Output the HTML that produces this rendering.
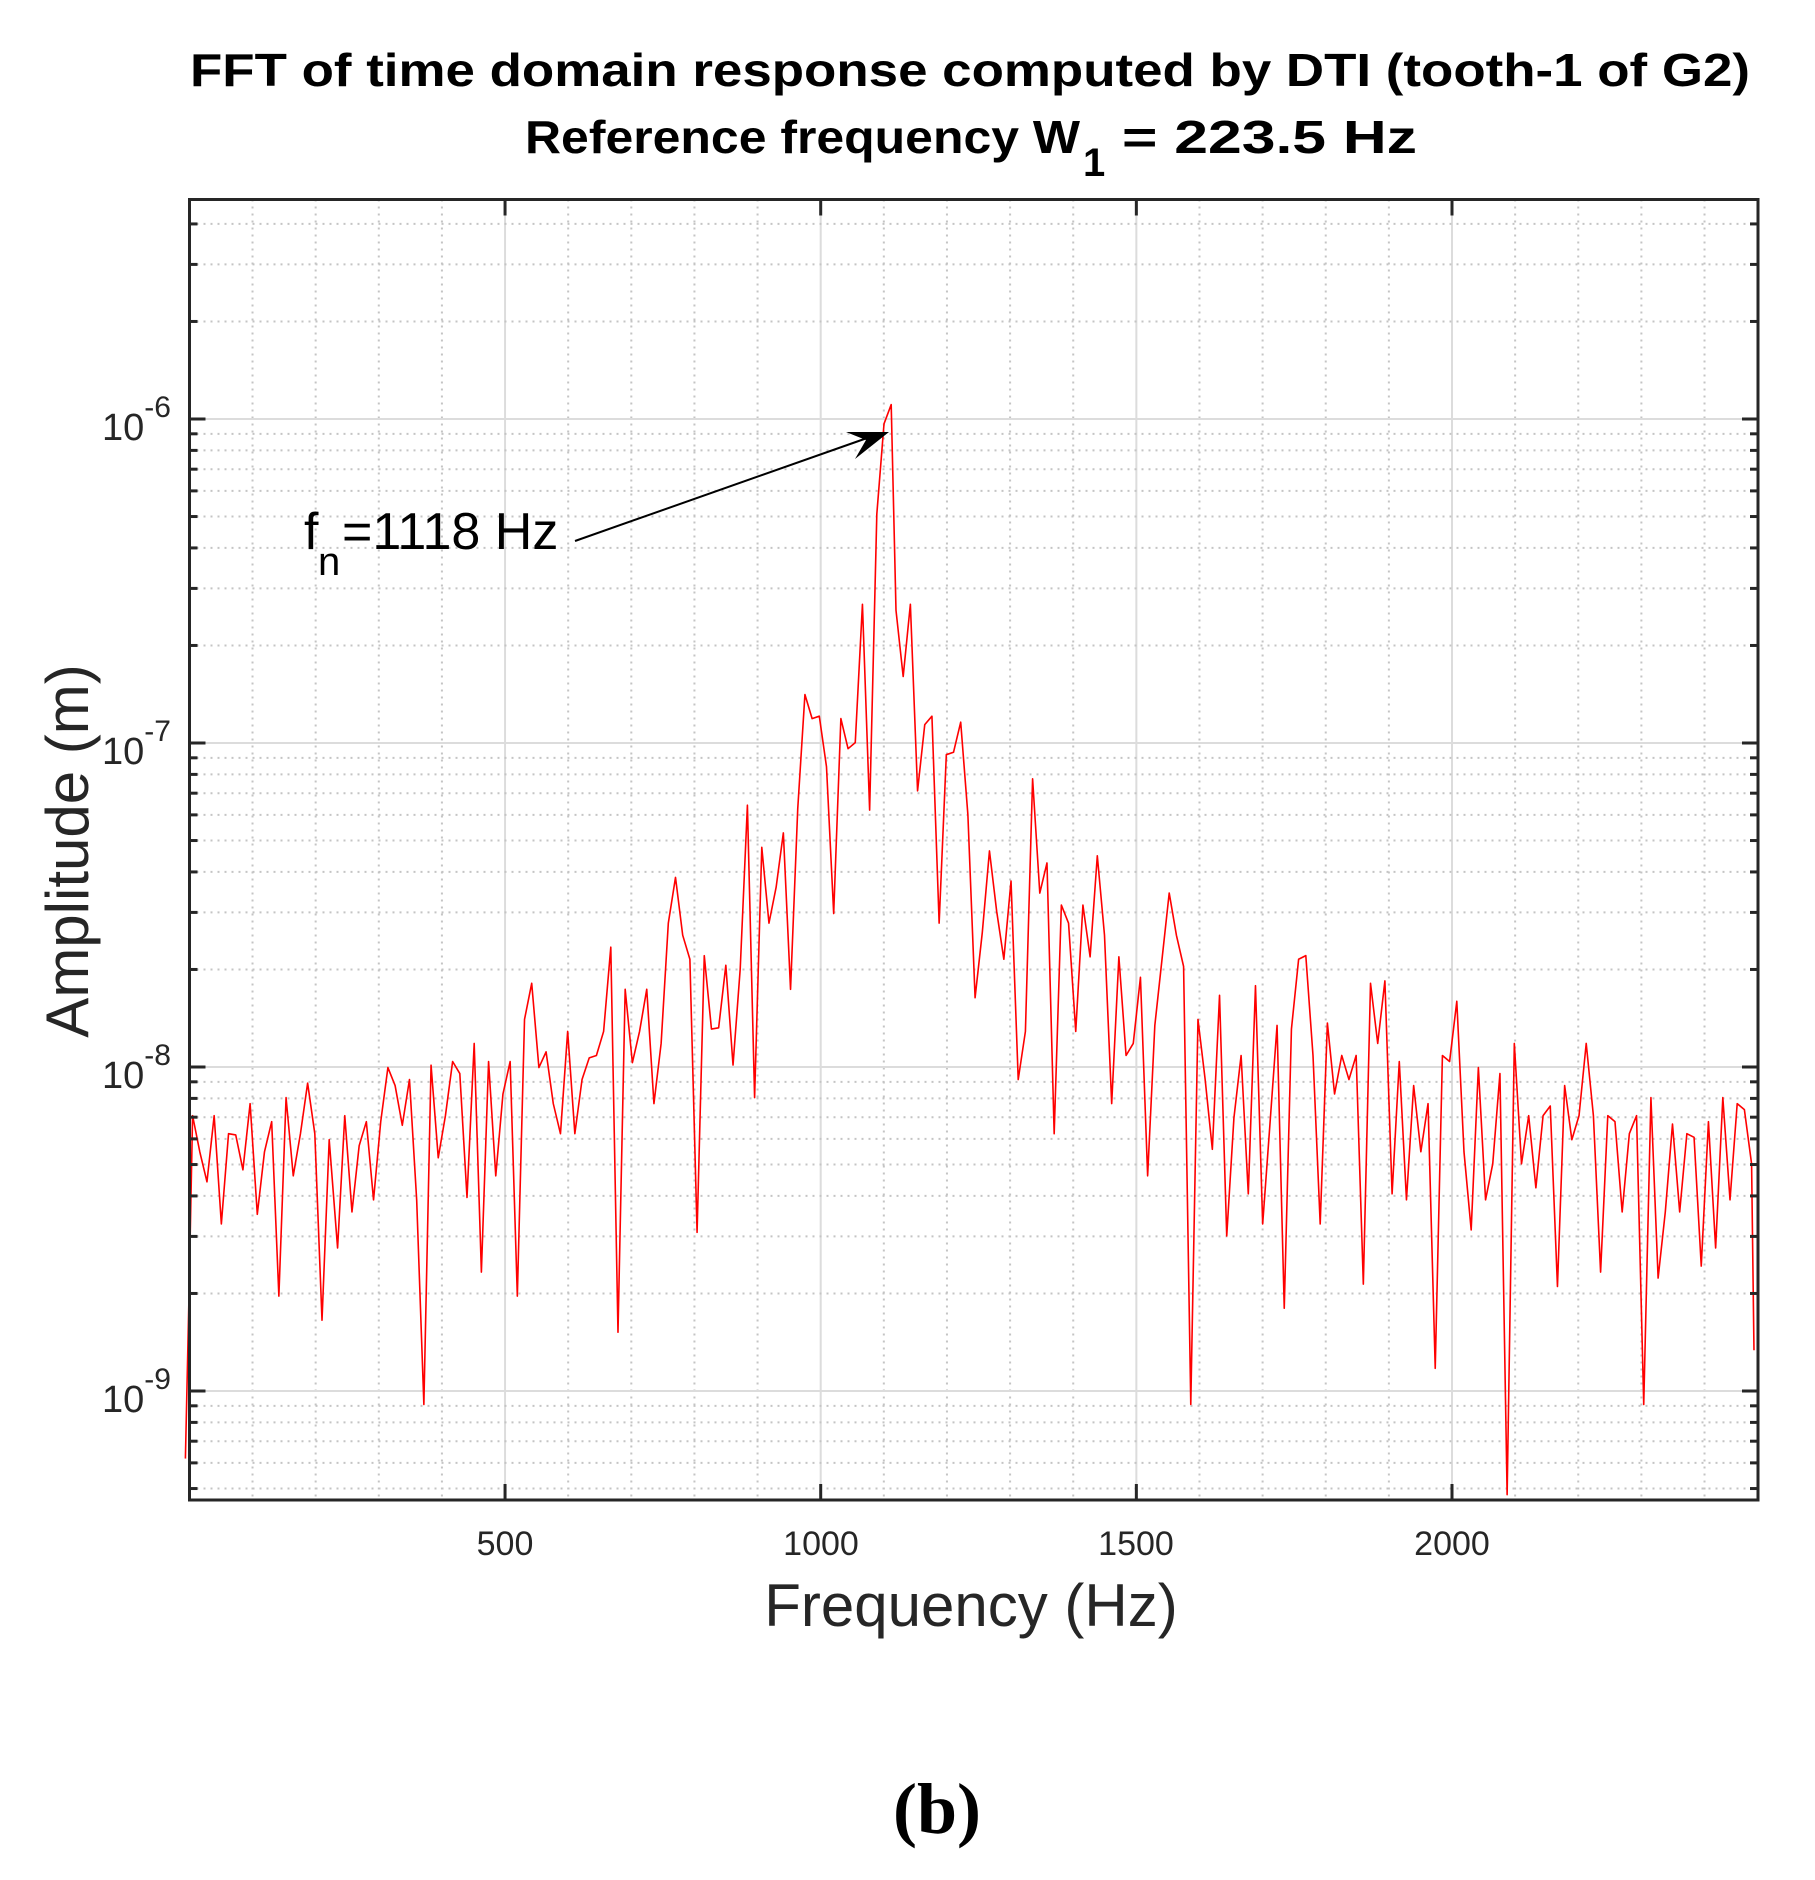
<!DOCTYPE html>
<html><head><meta charset="utf-8"><style>
html,body{margin:0;padding:0;background:#fff;}
svg{display:block;}
</style></head><body>
<svg id="s" width="1815" height="1880" viewBox="0 0 1815 1880" xmlns="http://www.w3.org/2000/svg" font-family="Liberation Sans, Arial, sans-serif">
<rect width="1815" height="1880" fill="#fff"/>
<g id="grid"></g>
<g transform="matrix(1.1983,0,0,1.2032,-3.93,-3.32)">
<polyline fill="none" stroke="#ff0000" stroke-width="1.6" vector-effect="non-scaling-stroke" stroke-linejoin="round" points="158,1215 161,1080 164,930 170,960 176,985 182,930 188,1020 194,945 200,946 206,975 212,920 218,1012 224,960 230,935 236,1080 242,915 248,980 254,945 260,903 266,945 272,1100 278,950 285,1040 291,930 297,1010 303,955 309,935 315,1000 321,935 327,890 333,905 339,938 345,900 351,1000 357,1170 363,888 369,965 375,930 381,885 387,895 393,998 399,870 405,1060 411,885 417,980 423,912 429,885 435,1080 441,850 447,820 453,890 459,877 465,920 471,945 477,860 483,945 489,900 495,882 501,880 507,860 513,790 519,1110 525,825 531,886 537,860 543,825 549,920 555,870 561,770 567,732 573,780 579,800 585,1027 591,797 597,858 603,857 609,805 615,888 621,808 627,672 633,915 639,707 645,770 651,740 657,695 663,825 669,675 675,580 681,600 687,598 693,640 699,762 705,600 711,625 717,620 723,505 729,676 735,430 741,355 747,339 751,510 757,565 763,505 769,660 775,605 781,598 787,770 793,630 799,628 805,603 811,680 817,832 823,778 829,710 835,760 841,800 847,735 853,900 859,860 865,650 871,745 877,720 883,945 889,755 895,770 901,860 907,755 913,798 919,714 925,780 931,920 937,798 943,880 949,870 955,815 961,980 967,855 973,800 979,745 985,780 991,806 997,1170 1003,850 1009,900 1015,958 1021,830 1027,1030 1033,932 1039,880 1045,995 1051,822 1057,1020 1063,938 1069,855 1075,1090 1081,858 1087,800 1093,797 1099,880 1105,1020 1111,853 1117,912 1123,880 1129,900 1135,880 1141,1070 1147,820 1153,870 1159,818 1165,995 1171,885 1177,1000 1183,905 1189,960 1195,920 1201,1140 1207,880 1213,885 1219,835 1225,960 1231,1025 1237,890 1243,1000 1249,970 1255,895 1261,1245 1267,870 1273,970 1279,930 1285,990 1291,930 1297,922 1303,1072 1309,905 1315,950 1321,930 1327,870 1333,930 1339,1060 1345,930 1351,935 1357,1010 1363,945 1369,930 1375,1170 1381,915 1387,1065 1393,1010 1399,937 1405,1010 1411,945 1417,948 1423,1055 1429,935 1435,1040 1441,915 1447,1000 1453,920 1459,925 1465,970 1467,1125"/>
</g>
<g id="ax"></g>
<rect x="189.5" y="199.5" width="1568.5" height="1300.5" fill="none" stroke="#262626" stroke-width="3"/>
<line x1="575" y1="541" x2="870" y2="437" stroke="#000" stroke-width="2"/>
<polygon points="889,432 846,432 866,440 855,459" fill="#000"/>
<text x="304" y="549" font-size="52" fill="#000">f</text>
<text x="318" y="575" font-size="40" fill="#000">n</text>
<text x="342" y="549" font-size="52" fill="#000">=1118 Hz</text>
<text x="970" y="86" font-size="46" font-weight="bold" text-anchor="middle" textLength="1560" lengthAdjust="spacingAndGlyphs">FFT of time domain response computed by DTI (tooth-1 of G2)</text>
<text x="525" y="153" font-size="46" font-weight="bold" textLength="555" lengthAdjust="spacingAndGlyphs">Reference frequency W</text>
<text x="1083" y="176" font-size="40" font-weight="bold">1</text>
<text x="1122" y="153" font-size="46" font-weight="bold" textLength="295" lengthAdjust="spacingAndGlyphs">= 223.5 Hz</text>
<g font-size="34" fill="#262626" text-anchor="middle">
<text x="505" y="1555">500</text><text x="821" y="1555">1000</text><text x="1136" y="1555">1500</text><text x="1452" y="1555">2000</text>
</g>
<text x="971" y="1626" font-size="60" fill="#262626" text-anchor="middle">Frequency (Hz)</text>
<text transform="translate(88,851) rotate(-90)" font-size="60" fill="#262626" text-anchor="middle">Amplitude (m)</text>
<text x="937" y="1833" font-size="72" font-weight="bold" font-family="Liberation Serif, serif" text-anchor="middle">(b)</text>
<g id="yl" font-size="38" fill="#262626"></g>
</svg>
<script>
(function(){
var NS="http://www.w3.org/2000/svg";
var g=document.getElementById('grid'),ax=document.getElementById('ax'),yl=document.getElementById('yl');
function el(p,t,a,txt){var e=document.createElementNS(NS,t);for(var k in a)e.setAttribute(k,a[k]);if(txt)e.textContent=txt;p.appendChild(e);return e;}
var L=189.5,R=1758,T=199.5,B=1500;
function X(f){return 189.4+0.6313*f;}
function Y(lg){return 419-(lg+6)*324;}
for(var f=100;f<2485;f+=100){var x=X(f);
 if(f%500==0){el(g,'line',{x1:x,x2:x,y1:T,y2:B,stroke:'#dcdcdc','stroke-width':2});
  el(ax,'line',{x1:x,x2:x,y1:B,y2:B-16,stroke:'#262626','stroke-width':3});
  el(ax,'line',{x1:x,x2:x,y1:T,y2:T+16,stroke:'#262626','stroke-width':3});}
 else el(g,'line',{x1:x,x2:x,y1:T,y2:B,stroke:'#c4c4c4','stroke-width':2,'stroke-dasharray':'2 5'});}
for(var d=-10;d<=-5;d++){for(var m=1;m<10;m++){var y=Y(d+Math.log10(m));if(y<T||y>B)continue;
 if(m==1){el(g,'line',{x1:L,x2:R,y1:y,y2:y,stroke:'#dcdcdc','stroke-width':2});
  el(ax,'line',{x1:L,x2:L+16,y1:y,y2:y,stroke:'#262626','stroke-width':3});
  el(ax,'line',{x1:R,x2:R-16,y1:y,y2:y,stroke:'#262626','stroke-width':3});
  var t=el(yl,'text',{x:102,y:y+21},'10');el(t,'tspan',{dy:-23,'font-size':30},'-'+(-d));}
 else{el(g,'line',{x1:L,x2:R,y1:y,y2:y,stroke:'#c4c4c4','stroke-width':2,'stroke-dasharray':'2 5'});
  el(ax,'line',{x1:L,x2:L+8,y1:y,y2:y,stroke:'#262626','stroke-width':3});
  el(ax,'line',{x1:R,x2:R-8,y1:y,y2:y,stroke:'#262626','stroke-width':3});}}}
})();
</script>
</body></html>
